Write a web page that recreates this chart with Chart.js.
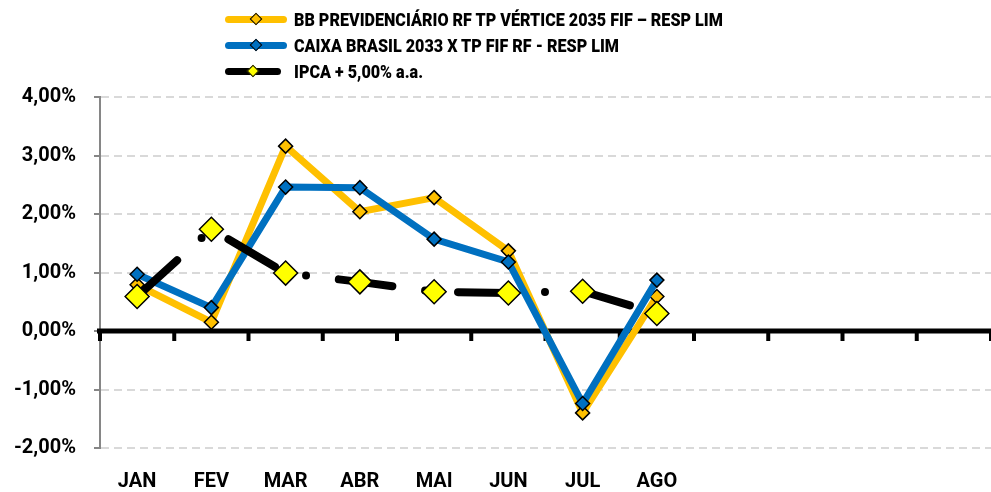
<!DOCTYPE html>
<html>
<head>
<meta charset="utf-8">
<script src="https://cdn.jsdelivr.net/npm/chart.js@4.4.0/dist/chart.umd.min.js"></script>
<style>
body { margin: 0; background: #fff; overflow: hidden; }
#wrap { position: relative; width: 991px; height: 492px; }
#chart { display: block; }
#legend { position: absolute; left: 225px; top: 6px; font: bold 19px 'Roboto', sans-serif; color: #000; }
.item { display: flex; align-items: center; height: 26px; white-space: nowrap; }
.item b { display: inline-block; transform: scaleX(0.85); transform-origin: left center; }
.sample { position: relative; height: 7px; border-radius: 4px; margin-right: 7px; flex: none; }
.sample i { position: absolute; left: 50%; top: 50%; width: 7px; height: 7px; border: 1.5px solid #000; transform: translate(-50%, -50%) rotate(45deg); }
</style>
</head>
<body>
<div id="wrap">
  <canvas id="chart" width="991" height="492"></canvas>
  <div id="legend"></div>
</div>
<script>
const months = ['JAN', 'FEV', 'MAR', 'ABR', 'MAI', 'JUN', 'JUL', 'AGO', '', '', '', ''];
const bbPrev = [0.79, 0.15, 3.16, 2.04, 2.28, 1.37, -1.40, 0.59];
const caixa = [0.97, 0.40, 2.46, 2.45, 1.57, 1.18, -1.24, 0.87];
const ipca = [0.59, 1.74, 0.99, 0.84, 0.67, 0.65, 0.68, 0.30];
const yTicks = [-2, -1, 0, 1, 2, 3, 4];

const names = ['BB PREVIDENCIÁRIO RF TP VÉRTICE 2035 FIF – RESP LIM', 'CAIXA BRASIL 2033 X TP FIF RF - RESP LIM', 'IPCA + 5,00% a.a.'];
const lineColors = ['#FFC000', '#0070C0', '#000000'];
const markColors = ['#FFC000', '#0070C0', '#FFFF00'];

const fontFamily = "'Roboto', sans-serif";

// linha do zero + marcas do eixo x
const zeroAxis = {
    id: 'zeroAxis',
    beforeDatasetsDraw(chart) {
        const { ctx, chartArea, scales: { x, y } } = chart;
        const y0 = y.getPixelForValue(0);
        const w = (chartArea.right - chartArea.left) / months.length;
        ctx.save();
        ctx.strokeStyle = '#000';
        ctx.lineWidth = 4;
        for (let i = 0; i <= months.length; i++) {
            const px = x.getPixelForValue(i) - w / 2;
            ctx.beginPath();
            ctx.moveTo(px, y0);
            ctx.lineTo(px, y0 + 10);
            ctx.stroke();
        }
        ctx.lineWidth = 5;
        ctx.beginPath();
        ctx.moveTo(chartArea.left - 3, y0);
        ctx.lineTo(chartArea.right, y0);
        ctx.stroke();
        ctx.restore();
    }
};

const ctx = document.getElementById('chart').getContext('2d');

new Chart(ctx, {
    type: 'line',
    data: {
        labels: months,
        datasets: [{
            label: names[0],
            data: bbPrev,
            borderColor: lineColors[0],
            backgroundColor: markColors[0],
            borderWidth: 7,
            pointStyle: 'rectRot',
            pointRadius: 7,
            pointBorderColor: '#000',
            pointBorderWidth: 1.5,
            order: 2
        },
        {
            label: names[1],
            data: caixa,
            borderColor: lineColors[1],
            backgroundColor: markColors[1],
            borderWidth: 7,
            pointStyle: 'rectRot',
            pointRadius: 7,
            pointBorderColor: '#000',
            pointBorderWidth: 1.5,
            order: 1
        },
        {
            label: names[2],
            data: ipca,
            borderColor: lineColors[2],
            backgroundColor: markColors[2],
            borderWidth: 8,
            borderDash: [54, 33, 0, 33],
            borderCapStyle: 'round',
            borderJoinStyle: 'round',
            pointStyle: 'rectRot',
            pointRadius: 12,
            pointBorderColor: '#000',
            pointBorderWidth: 1.5,
            order: 0
        }]
    },
    options: {
        responsive: false,
        animation: false,
        layout: { autoPadding: false, padding: { top: 97, right: 0, left: 0, bottom: 0 } },
        plugins: { legend: { display: false }, tooltip: { enabled: false } },
        scales: {
            x: {
                offset: true,
                grid: { display: false },
                border: { display: false },
                ticks: { autoSkip: false, maxRotation: 0, padding: 14, color: '#000', font: { family: fontFamily, size: 20, weight: 'bold' } },
                afterFit: (scale) => { scale.height = 44; }
            },
            y: {
                min: yTicks[0],
                max: yTicks[yTicks.length - 1],
                ticks: {
                    stepSize: 1,
                    padding: 18,
                    color: '#000',
                    font: { family: fontFamily, size: 20, weight: 'bold' },
                    callback: (v) => v.toFixed(2).replace('.', ',') + '%'
                },
                grid: {
                    color: (c) => c.tick && c.tick.value === 0 ? 'rgba(0,0,0,0)' : '#d9d9d9',
                    lineWidth: 2,
                    tickLength: 6,
                    tickColor: '#868686',
                    tickWidth: 2
                },
                border: { display: true, color: '#868686', width: 2, dash: [8, 5] },
                afterFit: (scale) => { scale.width = 100; }
            }
        }
    },
    plugins: [zeroAxis]
});

// legenda
const legend = document.getElementById('legend');
names.forEach((n, i) => {
    const item = document.createElement('div');
    item.className = 'item';
    const s = document.createElement('span');
    s.className = 'sample';
    s.style.width = (i === 2 ? 56 : 62) + 'px';
    s.style.marginRight = (i === 2 ? 13 : 7) + 'px';
    s.style.background = lineColors[i];
    const d = document.createElement('i');
    d.style.background = markColors[i];
    s.appendChild(d);
    const t = document.createElement('b');
    t.textContent = n;
    item.appendChild(s);
    item.appendChild(t);
    legend.appendChild(item);
});
</script>
</body>
</html>
